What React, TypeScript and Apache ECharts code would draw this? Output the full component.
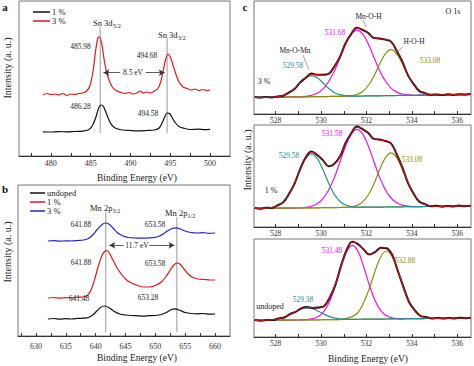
import React, { useEffect, useRef } from "react";
import * as echarts from "echarts";

const FONT = "'Liberation Serif', 'Times New Roman', Times, serif";

// ---------- Panel a : Sn 3d ----------
const snOnePct: number[][] = [
  [479, 24.2], [480, 24], [481, 24.4], [482, 24.1], [483, 24.5], [484, 24.8], [484.8, 26.5], [485.3, 31.5],
  [485.7, 40], [486.0, 48], [486.3, 51], [486.6, 49.5], [486.9, 44], [487.3, 36], [487.7, 30.5], [488.2, 27.5],
  [489, 26], [490, 25.5], [491, 25.2], [492, 25.5], [493, 26], [493.6, 28], [494.0, 33.5], [494.3, 39],
  [494.6, 43], [494.9, 42.5], [495.2, 39], [495.6, 33.5], [496.1, 29.5], [496.8, 27.5], [497.5, 26.5],
  [498.5, 26.8], [499.3, 26.3], [500, 26.7],
];
const snThreePct: number[][] = [
  [479, 61], [479.5, 62.5], [480, 61.5], [480.5, 62], [481, 61], [481.5, 62.5], [482, 60.5], [482.5, 62],
  [483, 61.5], [483.5, 62.5], [484, 63], [484.5, 65], [484.9, 70], [485.3, 85], [485.6, 104], [485.9, 118],
  [486.1, 119], [486.4, 112], [486.7, 96], [487, 84], [487.4, 74], [487.8, 68], [488.3, 65], [488.8, 63.5],
  [489.3, 62.5], [489.8, 63.5], [490.3, 62], [490.8, 63], [491.2, 65], [491.6, 63], [492, 64], [492.5, 63],
  [493, 65], [493.4, 67], [493.8, 74], [494.1, 85], [494.4, 96], [494.7, 102], [495, 99], [495.3, 92],
  [495.7, 82], [496.1, 74], [496.6, 69], [497.1, 67.5], [497.6, 66], [498.1, 67], [498.6, 65.5], [499.1, 66.5],
  [499.6, 65.5], [500, 66],
];
// [energy, bottom, top]
const snPeakLines: number[][] = [[486.2, 23, 129], [494.6, 23, 118]];
const snSplitY = 83.3;
const snArrowLeft = [488.7, 486.6];
const snArrowRight = [491.9, 494.3];
const axisATicks = [477.5, 480, 482.5, 485, 487.5, 490, 492.5, 495, 497.5, 500];
const axisALabels = [480, 485, 490, 495, 500];

// ---------- Panel b : Mn 2p ----------
const mnUndoped: number[][] = [
  [632, 17], [633, 17.5], [634, 16.8], [635, 17.4], [636, 17], [637, 17.6], [638, 17.8], [638.8, 18.5],
  [639.5, 21], [640.2, 25], [640.8, 28.5], [641.5, 30], [642.2, 28.5], [643, 25], [644, 22], [645, 21],
  [646, 20.5], [647, 20.2], [648, 19.8], [649, 20.3], [650, 20.5], [651, 21.5], [652, 24], [652.7, 26.5],
  [653.3, 27.2], [654, 26], [655, 23.5], [656, 22.5], [657, 22.2], [658, 22.5], [659, 21.8], [660, 22],
];
const mnOnePct: number[][] = [
  [632, 38], [633, 38.5], [634, 37.8], [635, 38.3], [636, 38.2], [637, 38.8], [638, 39], [638.7, 41],
  [639.3, 47], [639.9, 58], [640.5, 71], [641.1, 81], [641.6, 85], [641.9, 85.5], [642.3, 83], [642.9, 76],
  [643.6, 68], [644.4, 61], [645.2, 56], [646, 53], [647, 50.5], [648, 49], [649, 49], [650, 50.5],
  [651, 54], [651.8, 59.5], [652.5, 66], [653.1, 71], [653.6, 73], [654.1, 72], [654.8, 67], [655.5, 62],
  [656.3, 58.5], [657.2, 57], [658.2, 56.5], [659.1, 56], [660, 56],
];
const mnThreePct: number[][] = [
  [632, 95], [633, 95.3], [634, 94.8], [635, 95.2], [636, 95], [637, 95.5], [638, 96], [638.8, 97.5],
  [639.5, 101], [640.2, 106], [640.9, 110.5], [641.6, 113], [642.2, 112], [642.9, 108], [643.7, 103],
  [644.6, 100], [645.5, 98.5], [646.5, 98], [647.5, 97.8], [648.5, 98], [649.5, 98.3], [650.5, 99.5],
  [651.3, 102], [652, 105], [652.8, 107.5], [653.5, 108.2], [654.2, 107], [655, 105], [656, 103.5],
  [657, 103], [658, 103.3], [659, 102.7], [660, 103],
];
const mnPeakLines: number[][] = [[641.7, 4, 124], [653.6, 4, 119]];
const mnSplitY = 90.7;
const mnArrowLeft = [644.7, 642.3];
const mnArrowRight = [649.0, 653.2];
const axisBTicks = [627.5, 630, 632.5, 635, 637.5, 640, 642.5, 645, 647.5, 650, 652.5, 655, 657.5, 660];
const axisBLabels = [630, 635, 640, 645, 650, 655, 660];

// ---------- Panel c : O 1s ----------
const energyC12 = [527.08, 527.33, 527.58, 527.83, 528.08, 528.33, 528.58, 528.83, 529.08, 529.33, 529.58,
  529.83, 530.08, 530.33, 530.58, 530.83, 531.08, 531.33, 531.58, 531.83, 532.08, 532.33, 532.58, 532.83,
  533.08, 533.33, 533.58, 533.83, 534.08, 534.33, 534.58, 534.83, 535.08, 535.33, 535.58, 535.83, 536.08,
  536.33, 536.58];
const energyC3 = [527.08, 527.38, 527.63, 527.88, 528.13, 528.38, 528.63, 528.88, 529.13, 529.38, 529.63,
  529.88, 530.13, 530.38, 530.63, 530.88, 531.13, 531.38, 531.63, 531.88, 532.13, 532.38, 532.63, 532.88,
  533.13, 533.38, 533.63, 533.88, 534.13, 534.38, 534.63, 534.88, 535.13, 535.38, 535.63, 535.88, 536.13,
  536.38, 536.58];

// 3 %
const c3Base = [16.5, 16.6, 16.7, 16.7, 16.8, 16.9, 17.0, 17.1, 17.1, 17.2, 17.3, 17.4, 17.4, 17.5, 17.6, 17.7,
  17.8, 17.8, 17.9, 18.0, 18.1, 18.2, 18.2, 18.3, 18.4, 18.5, 18.6, 18.6, 18.7, 18.8, 18.9, 19.0, 19.0, 19.1,
  19.2, 19.3, 19.3, 19.4, 19.5];
const c3MnOMn = [16.5, 16.6, 16.7, 16.8, 17.3, 18.5, 21.0, 25.4, 31.0, 36.1, 38.3, 36.3, 31.3, 25.8, 21.6, 19.3,
  18.3, 17.9, 17.9, 18.0, 18.1, 18.2, 18.2, 18.3, 18.4, 18.5, 18.6, 18.6, 18.7, 18.8, 18.9, 19.0, 19.0, 19.1,
  19.2, 19.3, 19.3, 19.4, 19.5];
const c3MnOH = [16.5, 16.6, 16.7, 16.7, 16.8, 16.9, 17.0, 17.1, 17.1, 17.7, 18.7, 20.8, 24.9, 32.2, 42.7, 56.0,
  69.7, 79.9, 83.9, 80.1, 70.0, 56.5, 43.3, 33.0, 25.9, 21.9, 20.0, 19.1, 18.7, 18.8, 18.9, 19.0, 19.0, 19.1,
  19.2, 19.3, 19.3, 19.4, 19.5];
const c3HOH = [16.5, 16.6, 16.7, 16.7, 16.8, 16.9, 17.0, 17.1, 17.1, 17.2, 17.3, 17.4, 17.4, 17.5, 17.6, 17.7,
  17.9, 18.3, 19.5, 22.5, 28.5, 38.1, 49.9, 60.2, 64.4, 60.4, 50.3, 38.5, 29.1, 23.3, 20.5, 19.5, 19.1, 19.1,
  19.2, 19.3, 19.3, 19.4, 19.5];
const c3Fit = [16.5, 16.6, 16.7, 16.8, 17.3, 18.5, 21.0, 25.4, 31.2, 36.6, 39.7, 39.7, 38.8, 40.5, 46.7, 57.6,
  70.3, 80.5, 85.5, 84.6, 80.4, 76.4, 75.0, 74.9, 71.9, 63.8, 51.7, 39.0, 29.3, 23.3, 20.5, 19.5, 19.1, 19.1,
  19.2, 19.3, 19.3, 19.4, 19.5];
const c3Data = [17.0, 16.4, 16.9, 16.6, 17.6, 18.3, 21.4, 25.0, 31.6, 36.2, 40.4, 39.3, 39.2, 40.1, 47.2, 57.1,
  70.8, 80.2, 86.3, 84.1, 81.0, 75.9, 75.6, 74.4, 72.4, 63.2, 52.3, 38.6, 29.8, 22.9, 20.9, 19.2, 19.6, 19.0,
  19.7, 19.1, 19.8, 19.6, 19.9];

// 1 %
const c1Base = [18.5, 18.6, 18.7, 18.7, 18.8, 18.8, 18.9, 19.0, 19.0, 19.1, 19.2, 19.2, 19.3, 19.4, 19.4, 19.5,
  19.6, 19.6, 19.7, 19.8, 19.8, 19.9, 19.9, 20.0, 20.1, 20.1, 20.2, 20.3, 20.3, 20.4, 20.5, 20.5, 20.6, 20.7,
  20.7, 20.8, 20.9, 20.9, 21.0];
const c1MnOMn = [18.5, 18.6, 18.9, 19.5, 21.2, 25.0, 32.3, 43.7, 57.2, 68.6, 73.2, 68.7, 57.5, 44.1, 32.8, 25.7,
  22.0, 20.4, 19.9, 19.8, 19.8, 19.9, 19.9, 20.0, 20.1, 20.1, 20.2, 20.3, 20.3, 20.4, 20.5, 20.5, 20.6, 20.7,
  20.7, 20.8, 20.9, 20.9, 21.0];
const c1MnOH = [18.5, 18.6, 18.7, 18.7, 18.8, 18.8, 18.9, 19.0, 19.0, 19.7, 20.8, 23.3, 28.2, 36.7, 49.1, 64.8,
  80.9, 93.0, 97.7, 93.2, 81.1, 65.2, 49.6, 37.3, 29.0, 24.2, 21.8, 20.9, 20.3, 20.4, 20.5, 20.5, 20.6, 20.7,
  20.7, 20.8, 20.9, 20.9, 21.0];
const c1HOH = [18.5, 18.6, 18.7, 18.7, 18.8, 18.8, 18.9, 19.0, 19.0, 19.1, 19.2, 19.2, 19.3, 19.4, 19.4, 19.5,
  19.7, 20.2, 21.6, 25.1, 32.0, 43.3, 57.2, 69.2, 74.1, 69.3, 57.5, 43.7, 32.5, 25.7, 22.4, 21.1, 20.7, 20.7,
  20.7, 20.8, 20.9, 20.9, 21.0];
const c1Fit = [18.5, 18.6, 18.9, 19.5, 21.2, 25.0, 32.3, 43.7, 57.4, 69.2, 74.8, 72.8, 66.4, 61.4, 62.5, 71.0,
  83.4, 94.4, 99.8, 98.5, 93.3, 88.6, 86.9, 86.5, 83.0, 73.4, 59.1, 44.3, 32.7, 25.7, 22.4, 21.1, 20.7, 20.7,
  20.7, 20.8, 20.9, 20.9, 21.0];
const c1Data = [19.0, 18.2, 19.3, 19.1, 21.6, 24.6, 32.8, 43.2, 57.9, 69.8, 75.6, 72.1, 66.9, 60.8, 63.1, 70.4,
  84.0, 93.8, 100.5, 97.9, 93.9, 88.1, 87.5, 86.0, 83.6, 72.8, 59.7, 43.8, 33.2, 25.2, 22.9, 20.7, 21.2, 20.3,
  21.1, 20.5, 21.4, 20.8, 21.2];

// undoped
const c0Base = [16.5, 16.6, 16.7, 16.7, 16.8, 16.9, 16.9, 17.0, 17.0, 17.1, 17.2, 17.2, 17.3, 17.4, 17.4, 17.5,
  17.6, 17.6, 17.7, 17.8, 17.8, 17.9, 17.9, 18.0, 18.1, 18.1, 18.2, 18.3, 18.3, 18.4, 18.5, 18.5, 18.6, 18.7,
  18.7, 18.8, 18.9, 18.9, 19.0];
const c0MnOMn = [16.5, 16.6, 16.9, 17.2, 18.2, 19.9, 22.4, 25.5, 28.0, 29.1, 28.2, 25.7, 22.8, 20.4, 18.8, 18.0,
  17.8, 17.6, 17.7, 17.8, 17.8, 17.9, 17.9, 18.0, 18.1, 18.1, 18.2, 18.3, 18.3, 18.4, 18.5, 18.5, 18.6, 18.7,
  18.7, 18.8, 18.9, 18.9, 19.0];
const c0MnOH = [16.5, 16.6, 16.7, 16.7, 16.8, 16.9, 16.9, 17.0, 17.0, 17.4, 18.3, 20.5, 25.7, 35.8, 51.3, 69.8,
  85.5, 91.6, 85.6, 70.1, 51.7, 36.3, 26.3, 21.3, 19.2, 18.4, 18.2, 18.3, 18.3, 18.4, 18.5, 18.5, 18.6, 18.7,
  18.7, 18.8, 18.9, 18.9, 19.0];
const c0HOH = [16.5, 16.6, 16.7, 16.7, 16.8, 16.9, 16.9, 17.0, 17.0, 17.1, 17.2, 17.2, 17.3, 17.4, 17.4, 17.8,
  18.6, 20.6, 24.5, 34.7, 48.9, 66.0, 80.3, 86.0, 80.5, 66.2, 49.1, 35.2, 26.1, 21.4, 19.5, 18.8, 18.6, 18.7,
  18.7, 18.8, 18.9, 18.9, 19.0];
const c0Fit = [16.5, 16.6, 16.9, 17.2, 18.2, 19.9, 22.4, 25.5, 28.0, 29.4, 29.3, 29.0, 31.2, 38.8, 52.7, 70.6,
  86.7, 94.6, 93.4, 87.0, 82.8, 84.4, 88.7, 89.3, 81.6, 66.5, 49.3, 35.2, 26.1, 21.4, 19.5, 18.8, 18.6, 18.7,
  18.7, 18.8, 18.9, 18.9, 19.0];
const c0Data = [17.0, 16.2, 17.1, 16.9, 18.6, 19.5, 22.9, 25.1, 28.6, 29.9, 29.0, 29.5, 30.8, 39.4, 52.2, 71.2,
  87.3, 95.3, 92.9, 87.5, 82.4, 84.9, 89.3, 88.8, 82.2, 66.0, 49.9, 34.7, 26.6, 21.0, 19.9, 18.5, 19.0, 18.4,
  19.1, 18.6, 19.3, 18.8, 19.2];

const axisCTicks = [528, 529, 530, 531, 532, 533, 534, 535, 536];
const axisCLabels = [528, 530, 532, 534, 536];

const C_TEAL = "#1f8f8f";
const C_MAG = "#ee10ee";
const C_OLIVE = "#8f8f10";
const C_BASE = "#a8a830";

const grids = [
  { left: 19, top: 1, width: 211, height: 155 },
  { left: 18, top: 185, width: 212, height: 151 },
  { left: 254, top: 1, width: 217, height: 113 },
  { left: 254, top: 125, width: 217, height: 102 },
  { left: 254, top: 239, width: 217, height: 98 },
];

const zip = (xs: number[], ys: number[]) => xs.map((x, i) => [x, ys[i]]);

function lineSeries(gi: number, data: number[][], color: string, width: number, z = 2, smooth: any = 0.4): any {
  return {
    type: "line", xAxisIndex: gi, yAxisIndex: gi, data, symbol: "none", showSymbol: false,
    smooth, lineStyle: { color, width }, z, silent: true,
  };
}

function peakLineSeries(gi: number, lines: number[][], splitY: number, left: number[], right: number[]): any[] {
  const out: any[] = lines.map((l) => ({
    type: "line", xAxisIndex: gi, yAxisIndex: gi, data: [[l[0], l[1]], [l[0], l[2]]], symbol: "none",
    lineStyle: { color: "#9a9a9a", width: 1 }, z: 1, silent: true,
  }));
  out.push({
    type: "line", xAxisIndex: gi, yAxisIndex: gi, data: [], symbol: "none", silent: true,
    markLine: {
      silent: true, symbol: ["none", "arrow"], symbolSize: [5, 6], label: { show: false },
      lineStyle: { color: "#333", width: 0.8, type: "solid" },
      data: [
        [{ coord: [left[0], splitY] }, { coord: [left[1], splitY] }],
        [{ coord: [right[0], splitY] }, { coord: [right[1], splitY] }],
      ],
    },
  });
  return out;
}

function xAxis(gi: number, min: number, max: number, ticks: number[], labels: number[], fontSize: number, margin: number): any {
  return {
    type: "value", gridIndex: gi, min, max,
    axisLine: { show: true, onZero: false, lineStyle: { color: "#333", width: 1 } },
    axisTick: { show: true, inside: true, length: 3, customValues: ticks, lineStyle: { color: "#333" } },
    axisLabel: { show: true, customValues: labels, fontSize, fontFamily: FONT, color: "#333", margin },
    splitLine: { show: false },
  };
}

function txt(x: number, y: number, text: string, size: number, color = "#222", align = "center", bold = false, rotation = 0): any {
  return {
    type: "text", x, y, rotation, silent: true, z: 100,
    style: {
      text, fill: color, fontSize: size, fontFamily: FONT, fontWeight: bold ? "bold" : "normal",
      align, textAlign: align, verticalAlign: "middle", textVerticalAlign: "middle",
    },
  };
}

function seg(x1: number, y1: number, x2: number, y2: number, color: string, width = 1): any {
  return { type: "line", silent: true, z: 100, shape: { x1, y1, x2, y2 }, style: { stroke: color, lineWidth: width } };
}

export default function App() {
  const ref = useRef<HTMLDivElement>(null);
  useEffect(() => {
    if (!ref.current) return;
    const chart = echarts.init(ref.current, undefined, { renderer: "svg" });

    const series: any[] = [
      lineSeries(0, snOnePct, "#111", 1.2, 3, 0.3),
      lineSeries(0, snThreePct, "#e4151c", 1.2, 3, 0.3),
      ...peakLineSeries(0, snPeakLines, snSplitY, snArrowLeft, snArrowRight),
      lineSeries(1, mnUndoped, "#111", 1.2, 3, 0.3),
      lineSeries(1, mnOnePct, "#e4151c", 1.2, 3, 0.3),
      lineSeries(1, mnThreePct, "#2424c8", 1.2, 3, 0.3),
      ...peakLineSeries(1, mnPeakLines, mnSplitY, mnArrowLeft, mnArrowRight),
    ];
    const cSets = [
      { gi: 2, e: energyC12, b: c3Base, t: c3MnOMn, m: c3MnOH, o: c3HOH, d: c3Data, f: c3Fit },
      { gi: 3, e: energyC12, b: c1Base, t: c1MnOMn, m: c1MnOH, o: c1HOH, d: c1Data, f: c1Fit },
      { gi: 4, e: energyC3, b: c0Base, t: c0MnOMn, m: c0MnOH, o: c0HOH, d: c0Data, f: c0Fit },
    ];
    cSets.forEach((s) => {
      series.push(lineSeries(s.gi, zip(s.e, s.b), C_BASE, 1.2, 2, 0.4));
      series.push(lineSeries(s.gi, zip(s.e, s.m), C_MAG, 1.2, 3, 0.4));
      series.push(lineSeries(s.gi, zip(s.e, s.o), C_OLIVE, 1.2, 4, 0.4));
      series.push(lineSeries(s.gi, zip(s.e, s.t), C_TEAL, 1.2, 5, 0.4));
      series.push(lineSeries(s.gi, zip(s.e, s.d), "#111", 2, 6, 0.4));
      series.push(lineSeries(s.gi, zip(s.e, s.f), "#e4151c", 1, 7, 0.4));
    });

    const graphics: any[] = [
      // panel a
      txt(5, 7, "a", 11, "#111", "center", true),
      seg(33, 12, 50, 12, "#111", 1.5), txt(52, 12, "1 %", 8.5, "#222", "left"),
      seg(33, 21, 50, 21, "#e4151c", 1.5), txt(52, 21, "3 %", 8.5, "#222", "left"),
      txt(93, 22.5, "Sn 3d", 8.5, "#222", "left"), txt(113, 25.5, "5/2", 6, "#222", "left"),
      txt(158, 35, "Sn 3d", 8.5, "#222", "left"), txt(178, 38, "3/2", 6, "#222", "left"),
      txt(80.5, 46.7, "485.98", 7.5), txt(147, 55, "494.68", 7.5),
      txt(80.5, 106.7, "486.28", 7.5), txt(148, 113, "494.58", 7.5),
      txt(133, 72.7, "8.5 eV", 7.5),
      txt(7, 68, "Intensity (a. u.)", 10, "#222", "center", false, Math.PI / 2),
      txt(137, 177.5, "Binding Energy (eV)", 9.5),
      // panel b
      txt(5, 189, "b", 11, "#111", "center", true),
      seg(30, 193, 45, 193, "#111", 1.5), txt(47, 193, "undoped", 8.5, "#222", "left"),
      seg(30, 202, 45, 202, "#e4151c", 1.5), txt(47, 202, "1 %", 8.5, "#222", "left"),
      seg(30, 211, 45, 211, "#2424c8", 1.5), txt(47, 211, "3 %", 8.5, "#222", "left"),
      txt(90, 207.7, "Mn 2p", 8.5, "#222", "left"), txt(112.5, 210.7, "3/2", 6, "#222", "left"),
      txt(165, 212.7, "Mn 2p", 8.5, "#222", "left"), txt(187.5, 215.7, "1/2", 6, "#222", "left"),
      txt(81, 224, "641.88", 7.5), txt(155, 224, "653.58", 7.5),
      txt(81, 262, "641.88", 7.5), txt(155, 263, "653.58", 7.5),
      txt(79, 298, "641.48", 7.5), txt(148, 297.7, "653.28", 7.5),
      txt(137, 245.3, "11.7 eV", 7.5),
      txt(7, 252, "Intensity (a. u.)", 10, "#222", "center", false, Math.PI / 2),
      txt(137, 358, "Binding Energy (eV)", 9.5),
      // panel c
      txt(245, 7, "c", 11, "#111", "center", true),
      txt(453, 11.7, "O 1s", 8),
      txt(368.5, 16, "Mn-O-H", 7.5), seg(363, 20, 366, 27, "#666", 0.6),
      txt(335, 32.7, "531.68", 7.5, C_MAG),
      txt(414, 41.7, "H-O-H", 7.5), seg(403, 47, 395, 54, "#666", 0.6),
      txt(430, 60, "533.08", 7.5, C_OLIVE),
      txt(295, 50.7, "Mn-O-Mn", 7.5), seg(303, 55, 309, 70, "#666", 0.6),
      txt(293, 65, "529.58", 7.5, C_TEAL),
      txt(264, 81, "3 %", 8),
      txt(289, 155, "529.58", 7.5, C_TEAL),
      txt(332, 133.3, "531.58", 7.5, C_MAG),
      txt(412, 159, "533.08", 7.5, C_OLIVE),
      txt(271, 190.7, "1 %", 8),
      txt(332, 250.7, "531.48", 7.5, C_MAG),
      txt(405, 260.7, "532.88", 7.5, C_OLIVE),
      txt(303, 299, "529.38", 7.5, C_TEAL),
      txt(270, 306, "undoped", 8),
      txt(247, 160, "Intensity (a. u.)", 10, "#222", "center", false, Math.PI / 2),
      txt(368, 359, "Binding Energy (eV)", 9.5),
    ];

    chart.setOption({
      animation: false,
      backgroundColor: "#ffffff",
      grid: grids.map((g) => ({ ...g, show: true, borderColor: "#777", borderWidth: 1, containLabel: false })),
      xAxis: [
        xAxis(0, 476, 502.5, axisATicks, axisALabels, 8, 3),
        xAxis(1, 627, 662.5, axisBTicks, axisBLabels, 8, 6),
        xAxis(2, 527.05, 536.6, axisCTicks, axisCLabels, 7.5, 2),
        xAxis(3, 527.05, 536.6, axisCTicks, axisCLabels, 7.5, 2),
        xAxis(4, 527.05, 536.6, axisCTicks, axisCLabels, 7.5, 2),
      ],
      yAxis: grids.map((g, i) => ({ type: "value", gridIndex: i, min: 0, max: g.height, show: false })),
      series,
      graphic: { elements: graphics },
    });
    return () => chart.dispose();
  }, []);
  return (
    <div
      ref={ref}
      style={{ position: "absolute", left: 0, top: 0, width: 474, height: 366, background: "#fff" }}
    />
  );
}
